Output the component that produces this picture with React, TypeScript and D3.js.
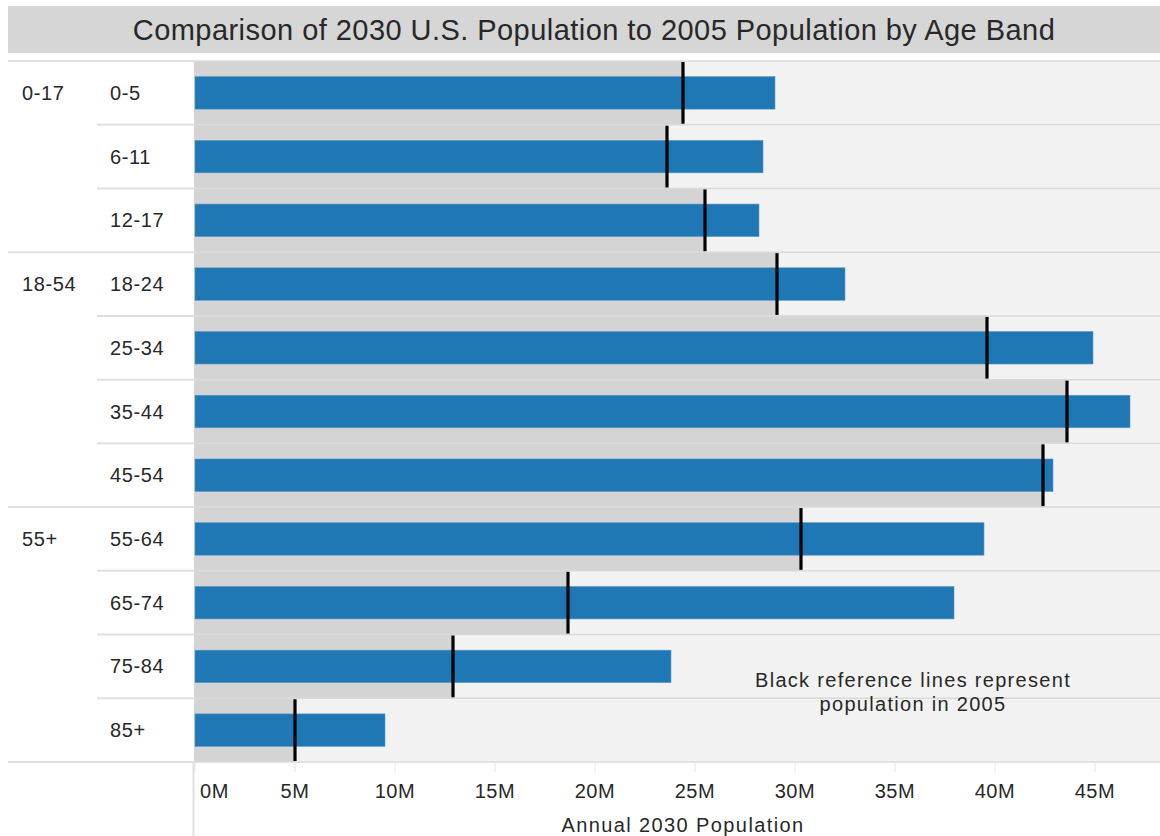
import * as d3 from 'd3'

const ageBands = ['0-5', '6-11', '12-17', '18-24', '25-34', '35-44', '45-54', '55-64', '65-74', '75-84', '85+']
const ageGroups = ['0-17', '0-17', '0-17', '18-54', '18-54', '18-54', '18-54', '55+', '55+', '55+', '55+']
// millions of people
const pop2030 = [29.0, 28.4, 28.2, 32.5, 44.9, 46.75, 42.9, 39.45, 37.95, 23.8, 9.5]
const pop2005 = [24.4, 23.6, 25.5, 29.1, 39.6, 43.6, 42.4, 30.3, 18.65, 12.9, 5.0]
const tickValues = [0, 5, 10, 15, 20, 25, 30, 35, 40, 45]

const title = 'Comparison of 2030 U.S. Population to 2005 Population by Age Band'
const axisTitle = 'Annual 2030 Population'
const note = ['Black reference lines represent', 'population in 2005']

const W = 1160
const H = 836
const font = '"Liberation Sans", Arial, sans-serif'
const textColor = '#282828'

export default function App() {
  const plotLeft = 194
  const plotTop = 61
  const plotBottom = 762

  const x = d3.scaleLinear().domain([0, 48.25]).range([195, W])
  const y = d3.scaleBand().domain(ageBands).range([plotTop, plotBottom])
  const bw = y.bandwidth()
  const bh = bw * 0.51

  // row boundaries; a group starts where the group name changes
  const boundaries = d3.range(ageBands.length + 1).map(i => ({
    y: i < ageBands.length ? y(ageBands[i])! : plotBottom,
    isGroup: i === 0 || i === ageBands.length || ageGroups[i] !== ageGroups[i - 1]
  }))

  const groupStarts = ageBands
    .map((b, i) => ({ band: b, group: ageGroups[i], i }))
    .filter(d => d.i === 0 || ageGroups[d.i] !== ageGroups[d.i - 1])

  return (
    <svg width={W} height={H} style={{ position: 'absolute', left: 0, top: 0, display: 'block' }}
      fontFamily={font}>
      <rect width={W} height={H} fill="#fff" />

      {/* title bar */}
      <rect x={8} y={6} width={W - 8} height={47} fill="#d6d6d6" />
      <text x={594} y={40} textAnchor="middle" fontSize={29} fill={textColor} letterSpacing={0.45}>
        {title}
      </text>

      {/* plot background */}
      <rect x={plotLeft} y={plotTop} width={W - plotLeft} height={plotBottom - plotTop} fill="#f2f2f2" />

      {/* 2005 bands */}
      {ageBands.map((b, i) => (
        <rect key={'band' + b} x={plotLeft} y={y(b)} width={x(pop2005[i]) - plotLeft} height={bw} fill="#d4d4d4" />
      ))}

      {/* row separators */}
      {boundaries.map((d, i) => (
        <g key={'sep' + i}>
          <line x1={d.isGroup ? 8 : 97} x2={plotLeft} y1={d.y} y2={d.y} stroke="#e0e0e0" strokeWidth={2} />
          <line x1={plotLeft} x2={W} y1={d.y} y2={d.y} stroke="#dadada" strokeWidth={1.5} />
        </g>
      ))}

      {/* 2030 bars */}
      {ageBands.map((b, i) => (
        <rect key={'bar' + b} x={x(0)} y={y(b)! + (bw - bh) / 2} width={x(pop2030[i]) - x(0)} height={bh}
          fill="#1f77b4" stroke="#5b9bcb" strokeWidth={0.6} />
      ))}

      {/* 2005 reference lines */}
      {ageBands.map((b, i) => (
        <line key={'ref' + b} x1={x(pop2005[i])} x2={x(pop2005[i])} y1={y(b)! + 1} y2={y(b)! + bw - 1}
          stroke="#000" strokeWidth={3.2} />
      ))}

      {/* row labels */}
      {ageBands.map(b => (
        <text key={'lab' + b} x={110} y={y(b)! + bw / 2} dy="0.35em" fontSize={20} fill={textColor} letterSpacing={0.6}>
          {b}
        </text>
      ))}
      {groupStarts.map(d => (
        <text key={'grp' + d.group} x={22} y={y(d.band)! + bw / 2} dy="0.35em" fontSize={20} fill={textColor} letterSpacing={0.6}>
          {d.group}
        </text>
      ))}

      {/* x axis */}
      <line x1={plotLeft - 0.5} x2={plotLeft - 0.5} y1={plotBottom} y2={H} stroke="#e0e0e0" strokeWidth={2} />
      {tickValues.map(t => (
        <g key={'tick' + t}>
          <line x1={x(t)} x2={x(t)} y1={plotBottom + 1} y2={plotBottom + 10} stroke="#e6e6e6" />
          <text x={t === 0 ? x(t) + 5 : x(t)} y={798} textAnchor={t === 0 ? 'start' : 'middle'}
            fontSize={20} fill={textColor} letterSpacing={0.6}>
            {t + 'M'}
          </text>
        </g>
      ))}
      <text x={683} y={832} textAnchor="middle" fontSize={20} fill={textColor} letterSpacing={1.4}>
        {axisTitle}
      </text>

      {/* annotation */}
      {note.map((line, i) => (
        <text key={'note' + i} x={913} y={687 + i * 24} textAnchor="middle" fontSize={20} fill={textColor} letterSpacing={1.3}>
          {line}
        </text>
      ))}
    </svg>
  )
}
